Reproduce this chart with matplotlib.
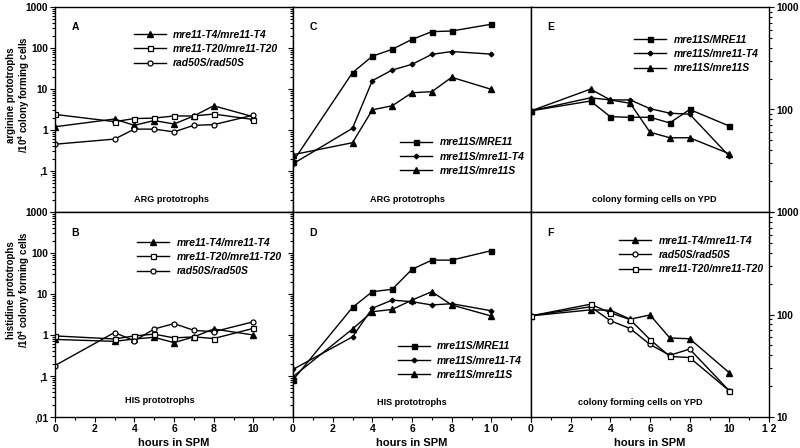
import matplotlib
matplotlib.use('Agg')
import matplotlib.pyplot as plt
from matplotlib.ticker import FixedLocator, FixedFormatter, LogLocator, NullFormatter, MultipleLocator

plt.rcParams['font.family'] = ['Liberation Sans', 'DejaVu Sans']
plt.rcParams['mathtext.fontset'] = 'custom'
plt.rcParams['mathtext.bf'] = 'Liberation Sans:bold'
plt.rcParams['mathtext.rm'] = 'Liberation Sans'

# sampling times (hours in SPM)
hours = [0, 3, 4, 5, 6, 7, 8, 10]

# A: arginine prototrophs (control strains)
arg_t4 = [1.2, 1.85, 1.3, 1.7, 1.4, 2.2, 3.9, 2.1]
arg_t20 = [2.4, 1.6, 1.9, 1.95, 2.2, 2.2, 2.45, 1.8]
arg_rad50s = [0.45, 0.6, 1.05, 1.05, 0.9, 1.3, 1.35, 2.3]

# B: histidine prototrophs (control strains)
his_t4 = [0.78, 0.7, 0.8, 0.88, 0.65, 0.9, 1.4, 1.0]
his_t20 = [0.95, 0.8, 0.95, 1.05, 0.85, 0.9, 0.82, 1.45]
his_rad50s = [0.18, 1.15, 0.72, 1.4, 1.9, 1.3, 1.2, 2.1]

# C: arginine prototrophs (mre11S strains)
arg_s_mre11 = [0.17, 25, 63, 93, 162, 250, 260, 380]
arg_s_t4 = [0.15, 1.1, 16, 29, 40, 70, 82, 71]
arg_s_s = [0.25, 0.49, 3.1, 3.9, 8.1, 8.6, 19.3, 9.8]

# D: histidine prototrophs (mre11S strains)
his_s_mre11 = [0.08, 4.7, 11.4, 13, 40, 67, 67, 114]
his_s_t4 = [0.145, 0.9, 4.5, 7.1, 6.5, 5.4, 5.8, 3.9]
his_s_s = [0.096, 1.4, 3.7, 4.2, 7.1, 11.4, 5.4, 2.9]

# E: colony forming cells on YPD (mre11S strains)
cfu_s_mre11 = [97, 121, 85, 84, 84, 74, 100, 69]
cfu_s_t4 = [97, 130, 124, 124, 102, 92, 90, 35]
cfu_s_s = [97, 158, 124, 115, 60, 53, 53, 37]

# F: colony forming cells on YPD (control strains)
cfu_t4 = [97, 111, 110, 90, 99, 59, 58, 27]
cfu_rad50s = [97, 119, 87, 73, 51, 40, 46, 18]
cfu_t20 = [97, 126, 104, 89, 57, 39, 38, 18]

left_ticks = [0.01, 0.1, 1, 10, 100, 1000]
left_labels = [',01', ',1', '1', '10', '100', '1000']
right_ticks = [10, 100, 1000]
right_labels = ['10', '100', '1000']

# marker styles
TRI = dict(marker='^', ms=3.8, mfc='black', mec='black')
SQ_OPEN = dict(marker='s', ms=3.6, mfc='white', mec='black', mew=0.9)
CIRC_OPEN = dict(marker='o', ms=3.6, mfc='white', mec='black', mew=0.9)
SQ_FILL = dict(marker='s', ms=3.6, mfc='black', mec='black')
DIA = dict(marker='D', ms=2.4, mfc='black', mec='black')

W, H = 800, 448
fig = plt.figure(figsize=(8, 4.48), dpi=100)

col_x = [55, 293, 531]
row_y = [7, 212]
pw, ph = 238, 205


def make_ax(col, row):
    x0 = col_x[col] / W
    y0 = 1 - (row_y[row] + ph) / H
    return fig.add_axes([x0, y0, pw / W, ph / H])


def style_ax(ax, col, row):
    ax.set_xlim(0, 12)
    ax.set_yscale('log')
    for sp in ax.spines.values():
        sp.set_linewidth(1.0)
    ax.tick_params(which='both', direction='out', width=0.8)
    ax.tick_params(which='major', length=3.5, labelsize=7.3, pad=1.5)
    ax.tick_params(which='minor', length=2)

    if col < 2:
        ax.set_ylim(0.01, 1000)
        ax.yaxis.set_major_locator(FixedLocator(left_ticks))
        if col == 0:
            labs = list(left_labels)
            if row == 0:
                labs[0] = ''
            ax.yaxis.set_major_formatter(FixedFormatter(labs))
        else:
            ax.yaxis.set_major_formatter(NullFormatter())
    else:
        ax.set_ylim(10, 1000)
        ax.yaxis.tick_right()
        ax.yaxis.set_major_locator(FixedLocator(right_ticks))
        labs = list(right_labels)
        if row == 0:
            labs[0] = ''
        ax.yaxis.set_major_formatter(FixedFormatter(labs))
    ax.yaxis.set_minor_locator(LogLocator(base=10, subs=range(2, 10), numticks=20))
    ax.yaxis.set_minor_formatter(NullFormatter())

    ax.xaxis.set_major_locator(FixedLocator([0, 2, 4, 6, 8, 10, 12]))
    ax.xaxis.set_minor_locator(MultipleLocator(1))
    if row == 0:
        ax.tick_params(axis='x', which='both', bottom=False, labelbottom=False)
    else:
        ax.tick_params(axis='x', which='major', labelsize=7.5, pad=1.5)
        if col == 0:
            xl = ['0', '2', '4', '6', '8', '10', '']
        elif col == 1:
            xl = ['0', '2', '4', '6', '8', '1 0', '']
        else:
            xl = ['0', '2', '4', '6', '8', '10', '1 2']
        ax.xaxis.set_major_formatter(FixedFormatter(xl))
        ax.set_xlabel('hours in SPM', fontsize=8, fontweight='bold', labelpad=3)
    for lab in ax.get_xticklabels() + ax.get_yticklabels():
        lab.set_fontweight('bold')


def add_legend(ax, x, y):
    ax.legend(loc='upper left', bbox_to_anchor=(x, y), frameon=False,
              prop=dict(size=7.5, style='italic', weight='bold'),
              handlelength=3.1, handletextpad=0.7, labelspacing=0.42,
              borderpad=0, borderaxespad=0, numpoints=1)


def panel_text(ax, letter, title, tx, ty):
    ax.text(0.07, 0.90, letter, transform=ax.transAxes, fontsize=7.5,
            fontweight='bold', ha='left', va='center')
    ax.text(tx, ty, title, transform=ax.transAxes, fontsize=6.6,
            fontweight='bold', ha='center', va='center')


lw = 1.0

# A
axA = make_ax(0, 0)
axA.plot(hours, arg_t4, 'k-', lw=lw, label='mre11-T4/mre11-T4', **TRI)
axA.plot(hours, arg_t20, 'k-', lw=lw, label='mre11-T20/mre11-T20', **SQ_OPEN)
axA.plot(hours, arg_rad50s, 'k-', lw=lw, label='rad50S/rad50S', **CIRC_OPEN)
style_ax(axA, 0, 0)
add_legend(axA, 0.33, 0.89)
panel_text(axA, 'A', 'ARG prototrophs', 0.49, 0.06)

# B
axB = make_ax(0, 1)
axB.plot(hours, his_t4, 'k-', lw=lw, label='mre11-T4/mre11-T4', **TRI)
axB.plot(hours, his_t20, 'k-', lw=lw, label='mre11-T20/mre11-T20', **SQ_OPEN)
axB.plot(hours, his_rad50s, 'k-', lw=lw, label='rad50S/rad50S', **CIRC_OPEN)
style_ax(axB, 0, 1)
add_legend(axB, 0.345, 0.875)
panel_text(axB, 'B', 'HIS prototrophs', 0.44, 0.08)

# C
axC = make_ax(1, 0)
axC.plot(hours, arg_s_mre11, 'k-', lw=lw, label='mre11S/MRE11', **SQ_FILL)
axC.plot(hours, arg_s_t4, 'k-', lw=lw, label='mre11S/mre11-T4', **DIA)
axC.plot(hours, arg_s_s, 'k-', lw=lw, label='mre11S/mre11S', **TRI)
style_ax(axC, 1, 0)
add_legend(axC, 0.45, 0.365)
panel_text(axC, 'C', 'ARG prototrophs', 0.48, 0.06)

# D
axD = make_ax(1, 1)
axD.plot(hours, his_s_mre11, 'k-', lw=lw, label='mre11S/MRE11', **SQ_FILL)
axD.plot(hours, his_s_t4, 'k-', lw=lw, label='mre11S/mre11-T4', **DIA)
axD.plot(hours, his_s_s, 'k-', lw=lw, label='mre11S/mre11S', **TRI)
style_ax(axD, 1, 1)
add_legend(axD, 0.44, 0.37)
panel_text(axD, 'D', 'HIS prototrophs', 0.50, 0.07)

# E
axE = make_ax(2, 0)
axE.plot(hours, cfu_s_mre11, 'k-', lw=lw, label='mre11S/MRE11', **SQ_FILL)
axE.plot(hours, cfu_s_t4, 'k-', lw=lw, label='mre11S/mre11-T4', **DIA)
axE.plot(hours, cfu_s_s, 'k-', lw=lw, label='mre11S/mre11S', **TRI)
style_ax(axE, 2, 0)
add_legend(axE, 0.433, 0.865)
panel_text(axE, 'E', 'colony forming cells on YPD', 0.52, 0.06)

# F
axF = make_ax(2, 1)
axF.plot(hours, cfu_t4, 'k-', lw=lw, label='mre11-T4/mre11-T4', **TRI)
axF.plot(hours, cfu_rad50s, 'k-', lw=lw, label='rad50S/rad50S', **CIRC_OPEN)
axF.plot(hours, cfu_t20, 'k-', lw=lw, label='mre11-T20/mre11-T20', **SQ_OPEN)
style_ax(axF, 2, 1)
add_legend(axF, 0.37, 0.885)
panel_text(axF, 'F', 'colony forming cells on YPD', 0.46, 0.07)

# shared y labels for left column
fig.text(19 / W, 1 - 95 / H, 'arginine prototrophs\n/10$^{\\mathbf{4}}$ colony forming cells',
         rotation=90, ha='center', va='center', fontsize=7, fontweight='bold',
         linespacing=1.1)
fig.text(19 / W, 1 - 290 / H, 'histidine prototrophs\n/10$^{\\mathbf{4}}$ colony forming cells',
         rotation=90, ha='center', va='center', fontsize=7, fontweight='bold',
         linespacing=1.1)

fig.savefig('out.png', dpi=100, facecolor='white')
